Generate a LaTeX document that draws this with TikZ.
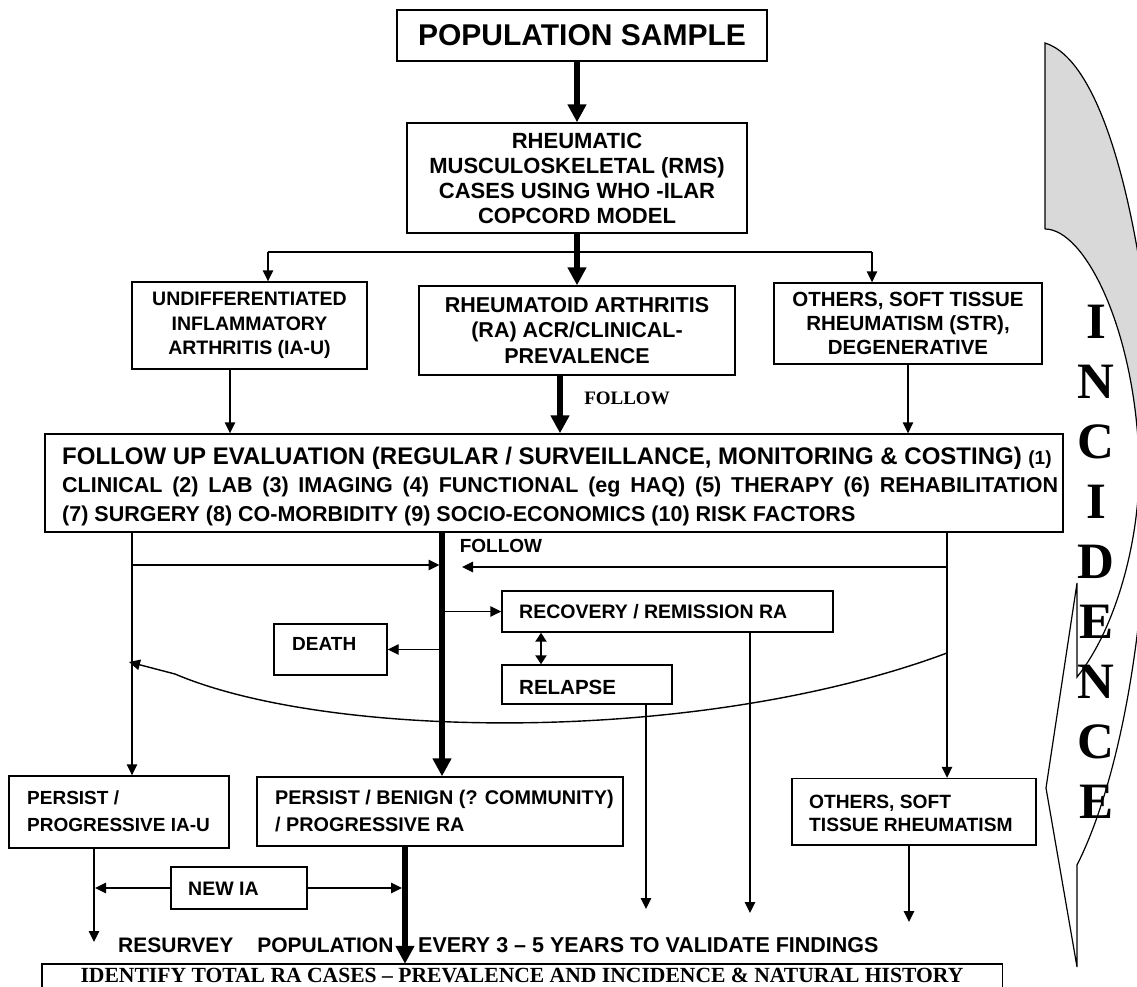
\documentclass[tikz,border=0pt]{standalone}
\usepackage{fontspec}
\newfontfamily\arialfont{Liberation Sans}
\newfontfamily\timesfont{Liberation Serif}
\usetikzlibrary{arrows.meta}
\newcommand\fsz[2]{\arialfont\bfseries\fontsize{#1pt}{#2pt}\selectfont}
\newcommand\tsz[2]{\timesfont\bfseries\fontsize{#1pt}{#2pt}\selectfont}
\tikzset{
  box/.style={draw, line width=1.4pt, inner sep=0pt},
  tx/.style={inner sep=0pt},
  conn/.style={line width=1.4pt, -{Triangle[length=11pt,width=10.5pt]}},
  plain/.style={line width=1.4pt},
  heavy/.style={line width=5.5pt, -{Triangle[length=18pt,width=18pt]}},
  dbl/.style={line width=2.2pt, {Triangle[length=9pt,width=11pt]}-{Triangle[length=9pt,width=11pt]}},
  shp/.style={line width=1.2pt, line join=miter},
}
\begin{document}
\begin{tikzpicture}[x=1pt, y=-1pt]
\useasboundingbox (0,0) rectangle (1137,987);
\fill[white] (0,0) rectangle (1137,987);

% ---- right-hand curved arrow (INCIDENCE)
\begin{scope}
\clip (0,0) rectangle (1137,987);
\fill[black!15] (1045,43) -- (1045,229) .. controls (1085,229) and (1135,330) .. (1139,460) -- (1170,460) -- (1170,340) -- (1150,340) .. controls (1135,200) and (1100,60) .. (1045,43) -- cycle;
\draw[shp] (1045,229) -- (1045,43) .. controls (1100,60) and (1135,200) .. (1150,340);
\draw[shp] (1045,229) .. controls (1085,229) and (1135,330) .. (1139,460) .. controls (1141,540) and (1115,630) .. (1077,677) -- (1077,583) -- (1046,788) -- (1077,967) -- (1077,865) .. controls (1115,790) and (1140,660) .. (1145,540);
\end{scope}
\node[tx, align=center, font=\tsz{51}{60}] (inc) at (1096,562) {I\\N\\C\\I\\D\\E\\N\\C\\E};

% ---- top part
\node[box, minimum width=370pt, minimum height=51pt, font=\fsz{30}{34}] (pop) at (582,35.5) {POPULATION SAMPLE};
\node[box, minimum width=340pt, minimum height=110pt, align=center, font=\fsz{22}{25}] (rms) at (577,178) {RHEUMATIC\\MUSCULOSKELETAL (RMS)\\CASES USING WHO -ILAR\\COPCORD MODEL};
\node[box, minimum width=235pt, minimum height=87pt, align=center, font=\fsz{19.5}{24.5}] (iau) at (249.5,325.5) {UNDIFFERENTIATED\\INFLAMMATORY\\ARTHRITIS (IA-U)};
\node[box, minimum width=316pt, minimum height=89pt, align=center, font=\fsz{21.5}{25.5}] (ra) at (577,330.5) {RHEUMATOID ARTHRITIS\\(RA) ACR/CLINICAL-\\PREVALENCE};
\node[box, minimum width=268pt, minimum height=81pt, align=center, font=\fsz{20.5}{24}] (oth) at (908,323.5) {OTHERS, SOFT TISSUE\\RHEUMATISM (STR),\\DEGENERATIVE};

\node[box, minimum width=1018pt, minimum height=98pt] (fu) at (554,483) {};
\node[tx, anchor=west, align=left, font=\fsz{21.5}{28.5}] (fut) at (62,486.5) {{\fsz{24}{28.5}FOLLOW UP EVALUATION (REGULAR / SURVEILLANCE, MONITORING \& COSTING) {\fsz{19}{28.5}(1)}}\\\makebox[996pt][s]{CLINICAL (2) LAB (3) IMAGING (4) FUNCTIONAL (eg HAQ) (5) THERAPY (6) REHABILITATION}\\(7) SURGERY (8) CO-MORBIDITY (9) SOCIO-ECONOMICS (10) RISK FACTORS};

\node[tx, font=\tsz{19}{22}] (fol1) at (627,398) {FOLLOW};

% ---- middle part
\node[box, minimum width=331pt, minimum height=41pt] (rec) at (667.5,611.5) {};
\node[tx, anchor=west, font=\fsz{19.5}{22}] (rect) at (519,611.5) {RECOVERY / REMISSION RA};
\node[box, minimum width=113pt, minimum height=51pt] (death) at (330.5,649.5) {};
\node[tx, anchor=west, font=\fsz{19}{22}] (deatht) at (292,644) {DEATH};
\node[box, minimum width=170pt, minimum height=39pt] (rel) at (587,684.5) {};
\node[tx, anchor=west, font=\fsz{20.5}{22}] (relt) at (519,687) {RELAPSE};
\node[tx, font=\fsz{19}{22}] (fol2) at (501,546) {FOLLOW};

% ---- lower part
\node[box, minimum width=220pt, minimum height=72pt] (p1) at (119,812) {};
\node[tx, anchor=west, align=left, font=\fsz{19}{27}] (p1t) at (27,811.5) {PERSIST /\\PROGRESSIVE IA-U};
\node[box, minimum width=366pt, minimum height=69pt] (p2) at (440,811.5) {};
\node[tx, anchor=west, align=left, font=\fsz{19.8}{27}] (p2t) at (275,811.5) {PERSIST / BENIGN (? COMMUNITY)\\/ PROGRESSIVE RA};
\node[box, minimum width=244pt, minimum height=66.5pt] (os) at (914,811.75) {};
\node[tx, anchor=west, align=left, font=\fsz{19.2}{23}] (ost) at (809,813.5) {OTHERS, SOFT\\TISSUE RHEUMATISM};
\node[box, minimum width=136pt, minimum height=42pt] (newia) at (239,888) {};
\node[tx, anchor=west, font=\fsz{19.5}{22}] (newiat) at (188,888.5) {NEW IA};

\node[tx, anchor=west, font=\fsz{21}{24}] (resv) at (118,945) {RESURVEY\hspace{24pt}POPULATION};
\node[tx, anchor=west, font=\fsz{21.5}{24}] (every) at (418,945) {EVERY 3 – 5 YEARS TO VALIDATE FINDINGS};
\node[tx, minimum width=960pt, minimum height=23pt, font=\tsz{21.6}{24}] (idf) at (522,975.5) {IDENTIFY TOTAL RA CASES – PREVALENCE AND INCIDENCE \& NATURAL HISTORY};
\draw[plain] (idf.south west) -- (idf.north west) -- (idf.north east) -- (idf.south east);

% ---- connectors, top
\coordinate (bl) at (268,252);
\coordinate (br) at (872,252);
\draw[plain] (bl) -- (br);
\draw[conn] (bl) -- (bl |- iau.north);
\draw[conn] (br) -- (br |- oth.north);
\draw[heavy] (rms.north |- pop.south) -- (rms.north);
\draw[heavy] (rms.south) -- (rms.south |- ra.north);
\coordinate (xa) at (230,0);
\draw[conn] (iau.south -| xa) -- (fu.north -| xa);
\coordinate (xb) at (560,0);
\draw[heavy] (ra.south -| xb) -- (fu.north -| xb);
\draw[conn] (oth.south) -- (oth.south |- fu.north);

% ---- connectors, middle
\coordinate (lv) at (132,0);
\coordinate (tk) at (442,0);
\coordinate (rv) at (947,0);
\draw[conn] (fu.south -| lv) -- (p1.north -| lv);
\draw[heavy] (fu.south -| tk) -- (p2.north -| tk);
\draw[conn] (fu.south -| rv) -- (os.north -| rv);
\coordinate (h1s) at (132,565);
\coordinate (h1e) at (439.5,565);
\draw[conn] (h1s) -- (h1e);
\coordinate (h2s) at (947,567);
\coordinate (h2e) at (462,567);
\draw[conn] (h2s) -- (h2e);
\draw[conn] (rec.west -| tk) -- (rec.west);
\draw[conn] (death.east -| tk) -- (death.east);
\coordinate (xd) at (541,0);
\draw[dbl] (rec.south -| xd) -- (rel.north -| xd);
\coordinate (cs) at (947,653);
\coordinate (ck) at (175,674);
\coordinate (ce) at (129,662);
\draw[conn] (cs) .. controls (700,745) and (330,740) .. (ck) -- (ce);

% ---- connectors, lower
\coordinate (xr) at (646,0);
\coordinate (er) at (646,909);
\draw[conn] (rel.south -| xr) -- (er);
\coordinate (xc) at (750,0);
\coordinate (ec) at (750,913);
\draw[conn] (rec.south -| xc) -- (ec);
\coordinate (eo) at (909,922);
\draw[conn] (os.south -| eo) -- (eo);
\coordinate (ep) at (94,942);
\draw[conn] (p1.south -| ep) -- (ep);
\coordinate (x95) at (95,0);
\draw[conn] (newia.west) -- (newia.west -| x95);
\coordinate (x402) at (402,0);
\draw[conn] (newia.east) -- (newia.east -| x402);
\coordinate (xt) at (405,0);
\draw[heavy] (p2.south -| xt) -- (idf.north -| xt);
\end{tikzpicture}
\end{document}
